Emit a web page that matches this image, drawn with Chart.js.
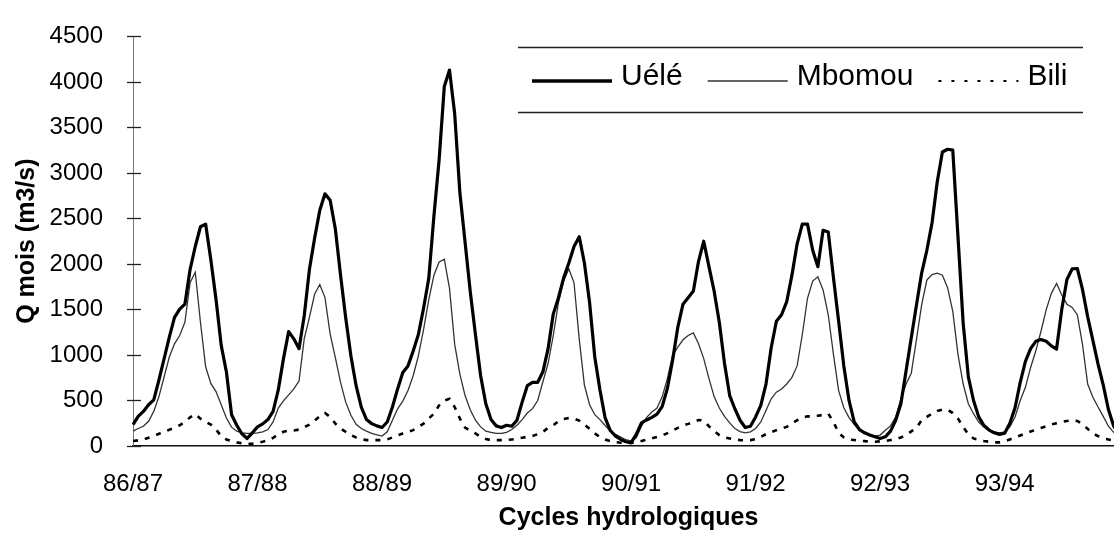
<!DOCTYPE html>
<html>
<head>
<meta charset="utf-8">
<script src="https://cdn.jsdelivr.net/npm/chart.js"></script>
<style>
  html, body { margin: 0; padding: 0; background: #fff; overflow: hidden; }
  #wrap { width: 1114px; height: 533px; overflow: hidden; }
</style>
</head>
<body>
<div id="wrap"><canvas id="flowChart" width="1140" height="533"></canvas></div>
<script>
// hydrological cycles, 24 half-month steps each
const cycles = ['86/87', '87/88', '88/89', '89/90', '90/91', '91/92', '92/93', '93/94'];
const stepsPerCycle = 24;
const yTicks = [0, 500, 1000, 1500, 2000, 2500, 3000, 3500, 4000, 4500];

const uele = [
    235, 326, 380, 453, 507, 725, 960, 1196, 1413, 1504, 1558, 1938, 2192, 2409, 2438, 2047, 1612, 1105, 815, 344, 228, 134, 83, 145,
    210, 243, 290, 380, 616, 960, 1257, 1177, 1069, 1431, 1938, 2282, 2590, 2771, 2700, 2384, 1877, 1406, 989, 663, 428, 290, 246, 221,
    203, 264, 428, 627, 808, 880, 1043, 1225, 1514, 1840, 2529, 3145, 3950, 4130, 3650, 2782, 2239, 1696, 1225, 772, 464, 290, 221, 203,
    228, 217, 283, 482, 663, 700, 700, 815, 1069, 1449, 1630, 1848, 2011, 2192, 2300, 2011, 1576, 978, 616, 308, 170, 109, 72, 47,
    36, 127, 254, 286, 315, 351, 435, 634, 942, 1304, 1558, 1630, 1703, 2029, 2250, 1974, 1703, 1359, 910, 554, 409, 283, 203, 217,
    319, 446, 681, 1080, 1370, 1442, 1587, 1877, 2221, 2438, 2438, 2150, 1970, 2370, 2350, 1850, 1370, 880, 500, 264, 181, 145, 120, 101,
    83, 101, 163, 283, 464, 826, 1188, 1550, 1900, 2150, 2450, 2900, 3230, 3260, 3250, 2300, 1350, 760, 500, 320, 225, 175, 145, 128,
    140, 250, 420, 700, 930, 1070, 1150, 1170, 1150, 1100, 1065, 1500, 1830, 1945, 1950, 1720, 1420, 1160, 900, 670, 400, 220, 140, 110
];

const mbomou = [
    163, 192, 217, 272, 380, 543, 761, 978, 1123, 1214, 1359, 1793, 1909, 1359, 870, 688, 598, 453, 308, 207, 163, 145, 138, 138,
    145, 156, 181, 264, 417, 496, 562, 627, 714, 1177, 1413, 1667, 1775, 1630, 1230, 971, 699, 482, 337, 239, 192, 163, 138, 123,
    109, 156, 283, 409, 493, 609, 772, 989, 1279, 1605, 1877, 2022, 2051, 1732, 1116, 790, 554, 399, 283, 210, 163, 149, 138, 138,
    149, 181, 228, 290, 362, 410, 500, 706, 906, 1214, 1576, 1811, 1946, 1793, 1177, 670, 453, 344, 290, 225, 163, 127, 98, 69,
    54, 91, 217, 315, 373, 417, 543, 743, 996, 1087, 1167, 1214, 1243, 1123, 960, 743, 543, 417, 325, 254, 192, 159, 145, 156,
    192, 264, 391, 518, 591, 627, 681, 754, 880, 1225, 1623, 1812, 1859, 1714, 1442, 1007, 609, 420, 312, 239, 185, 149, 127, 109,
    120, 174, 221, 319, 518, 681, 800, 1170, 1550, 1822, 1884, 1898, 1877, 1739, 1478, 1007, 681, 464, 355, 264, 210, 174, 156, 145,
    156, 210, 319, 500, 645, 862, 1043, 1261, 1496, 1677, 1786, 1659, 1558, 1522, 1442, 1116, 681, 536, 428, 326, 217, 150, 120, 110
];

const bili = [
    54, 62, 72, 90, 109, 134, 156, 178, 199, 228, 264, 315, 351, 300, 264, 235, 181, 109, 72, 54, 40, 29, 25, 25,
    36, 47, 62, 90, 127, 156, 170, 170, 181, 207, 235, 279, 326, 362, 320, 246, 192, 156, 120, 94, 76, 65, 65, 65,
    65, 72, 94, 116, 138, 156, 174, 210, 246, 301, 355, 446, 500, 518, 428, 301, 203, 167, 138, 101, 76, 65, 65, 65,
    65, 72, 80, 90, 101, 110, 130, 156, 199, 228, 272, 297, 308, 300, 279, 235, 188, 138, 98, 72, 54, 43, 36, 33,
    33, 40, 54, 69, 83, 98, 116, 141, 170, 199, 225, 243, 264, 286, 279, 217, 163, 120, 95, 83, 76, 65, 62, 65,
    76, 101, 130, 152, 174, 192, 210, 246, 283, 312, 326, 326, 333, 341, 355, 264, 145, 94, 72, 65, 58, 54, 47, 47,
    51, 54, 65, 76, 94, 120, 160, 200, 283, 319, 355, 384, 399, 399, 362, 301, 210, 127, 83, 65, 54, 47, 40, 40,
    51, 72, 94, 116, 138, 159, 178, 199, 217, 236, 250, 264, 275, 283, 275, 239, 188, 138, 109, 83, 72, 60, 55, 50
];

// one label per step, cycle name at the start of each cycle
const stepLabels = uele.map((v, i) => i % stepsPerCycle === 0 ? cycles[i / stepsPerCycle] : '');

const FONT = "'Liberation Sans', Arial, sans-serif";

// tick crosses on the y axis
const yTickMarks = {
    id: 'yTickMarks',
    afterDraw(chart) {
        const { ctx, scales: { y } } = chart;
        ctx.save();
        ctx.strokeStyle = '#222';
        ctx.lineWidth = 1.3;
        yTicks.forEach(v => {
            const py = Math.round(y.getPixelForValue(v)) + 0.5;
            ctx.beginPath();
            ctx.moveTo(y.right - 6, py);
            ctx.lineTo(y.right + 8, py);
            ctx.stroke();
        });
        ctx.restore();
    }
};

// boxed legend between two rules, drawn inside the plot
const ruledLegend = {
    id: 'ruledLegend',
    afterDraw(chart) {
        const ctx = chart.ctx;
        const left = 518, right = 1083, top = 47.5, bottom = 112.5;
        ctx.save();
        ctx.strokeStyle = '#222';
        ctx.lineWidth = 1.3;
        [top, bottom].forEach(yy => {
            ctx.beginPath();
            ctx.moveTo(left, yy);
            ctx.lineTo(right, yy);
            ctx.stroke();
        });

        ctx.font = '30px ' + FONT;
        ctx.fillStyle = '#000';
        ctx.textBaseline = 'alphabetic';
        let x = 532;
        chart.data.datasets.forEach(ds => {
            ctx.beginPath();
            ctx.strokeStyle = ds.borderColor;
            ctx.lineWidth = ds.legendWidth;
            ctx.setLineDash(ds.legendDash);
            ctx.moveTo(x, 81);
            ctx.lineTo(x + 80, 81);
            ctx.stroke();
            ctx.setLineDash([]);
            x += 89;
            ctx.fillText(ds.label, x, 85);
            x += ctx.measureText(ds.label).width + 25;
        });
        ctx.restore();
    }
};

document.addEventListener('DOMContentLoaded', () => {
    const ctx = document.getElementById('flowChart').getContext('2d');

    new Chart(ctx, {
        type: 'line',
        data: {
            labels: stepLabels,
            datasets: [
                {
                    label: 'Uélé',
                    data: uele,
                    borderColor: '#000',
                    borderWidth: 3.2,
                    borderJoinStyle: 'round',
                    legendWidth: 3.5,
                    legendDash: []
                },
                {
                    label: 'Mbomou',
                    data: mbomou,
                    borderColor: '#333',
                    borderWidth: 1.3,
                    legendWidth: 1.5,
                    legendDash: []
                },
                {
                    label: 'Bili',
                    data: bili,
                    borderColor: '#000',
                    borderWidth: 2.6,
                    borderDash: [5, 7],
                    legendWidth: 2.2,
                    legendDash: [3, 10]
                }
            ]
        },
        options: {
            responsive: false,
            animation: false,
            layout: { padding: { top: 31.7, right: 11.4, left: 0, bottom: 0 } },
            elements: {
                point: { radius: 0, hoverRadius: 0 },
                line: { tension: 0, fill: false }
            },
            scales: {
                x: {
                    type: 'category',
                    grid: { display: false },
                    border: { display: true, color: '#111', width: 1.6, dash: [8, 2] },
                    ticks: {
                        autoSkip: false,
                        maxRotation: 0,
                        minRotation: 0,
                        padding: 16,
                        color: '#000',
                        font: { family: FONT, size: 24 }
                    },
                    title: {
                        display: true,
                        text: 'Cycles hydrologiques',
                        color: '#000',
                        padding: 0,
                        font: { family: FONT, size: 25, weight: 'bold' }
                    },
                    afterFit: (scale) => { scale.height = 87; }
                },
                y: {
                    min: 0,
                    max: 4500,
                    grid: { display: false },
                    border: { display: true, color: '#777', width: 1, dash: [2, 6] },
                    ticks: {
                        stepSize: 500,
                        padding: 22,
                        color: '#000',
                        font: { family: FONT, size: 24 },
                        callback: (value) => String(value)
                    },
                    title: {
                        display: true,
                        text: 'Q mois (m3/s)',
                        color: '#000',
                        padding: { top: 12, bottom: 0 },
                        font: { family: FONT, size: 25, weight: 'bold' }
                    },
                    afterFit: (scale) => { scale.width = 133; }
                }
            },
            plugins: {
                legend: { display: false },
                tooltip: { enabled: false }
            }
        },
        plugins: [yTickMarks, ruledLegend]
    });
});
</script>
</body>
</html>
